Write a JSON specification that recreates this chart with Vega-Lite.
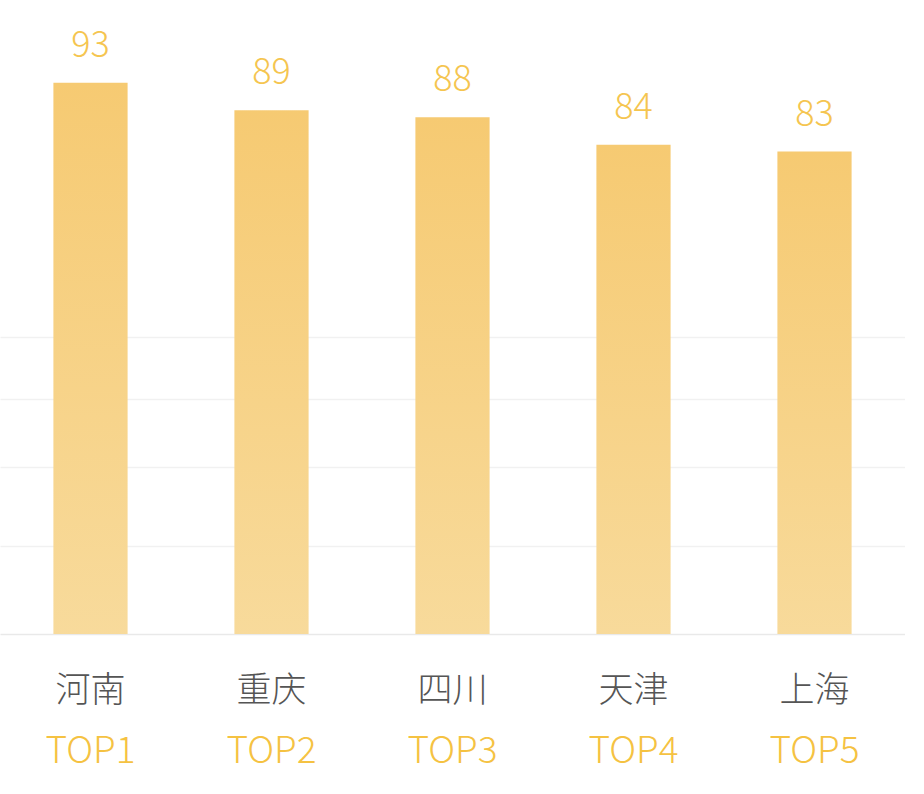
{
  "$schema": "https://vega.github.io/schema/vega-lite/v6.json",
  "width": 905,
  "height": 634,
  "padding": 0,
  "background": "#ffffff",
  "config": {
    "view": {"stroke": null},
    "font": "Noto Sans CJK SC"
  },
  "data": {
    "values": [
      {"city": "河南", "rank": "TOP1", "value": 93},
      {"city": "重庆", "rank": "TOP2", "value": 89},
      {"city": "四川", "rank": "TOP3", "value": 88},
      {"city": "天津", "rank": "TOP4", "value": 84},
      {"city": "上海", "rank": "TOP5", "value": 83}
    ]
  },
  "encoding": {
    "x": {
      "field": "city",
      "type": "nominal",
      "sort": null,
      "scale": {"paddingInner": 0.59, "paddingOuter": 0.295}
    },
    "y": {
      "field": "value",
      "type": "quantitative",
      "scale": {"domain": [13, 105], "zero": false, "nice": false}
    }
  },
  "resolve": {"axis": {"x": "independent"}},
  "layer": [
    {
      "mark": {
        "type": "bar",
        "clip": true,
        "color": {
          "gradient": "linear",
          "x1": 0, "y1": 0, "x2": 0, "y2": 1,
          "stops": [
            {"offset": 0, "color": "#F6CA72"},
            {"offset": 1, "color": "#F8DDA2"}
          ]
        }
      },
      "encoding": {
        "x": {
          "field": "city",
          "type": "nominal",
          "sort": null,
          "axis": {
            "title": null,
            "orient": "bottom",
            "labelAngle": 0,
            "labelFontSize": 35,
            "labelFontWeight": 300,
            "labelColor": "#555555",
            "labelPadding": 39,
            "ticks": false,
            "domain": true,
            "domainColor": "#E9E9E9",
            "domainWidth": 1.5,
            "labelFont": "Noto Sans CJK SC"
          }
        },
        "y": {
          "field": "value",
          "type": "quantitative",
          "axis": {
            "title": null,
            "labels": false,
            "ticks": false,
            "domain": false,
            "grid": true,
            "gridColor": "#F1F1F1",
            "gridWidth": 1.5,
            "values": [25.8, 37.2, 47.1, 56.1]
          }
        }
      }
    },
    {
      "mark": {
        "type": "text",
        "baseline": "alphabetic",
        "dy": -26,
        "fontSize": 36,
        "fontWeight": 300,
        "color": "#F5C550",
        "font": "Noto Sans CJK SC"
      },
      "encoding": {
        "x": {
          "field": "city",
          "type": "nominal",
          "sort": null,
          "axis": {
            "title": null,
            "orient": "bottom",
            "offset": 91,
            "labelAngle": 0,
            "labelFontSize": 37,
            "labelFontWeight": 300,
            "labelColor": "#F5C242",
            "labelPadding": 8,
            "ticks": false,
            "domain": false,
            "labelFont": "Noto Sans CJK SC",
            "labelExpr": "datum.label == '河南' ? 'TOP1' : datum.label == '重庆' ? 'TOP2' : datum.label == '四川' ? 'TOP3' : datum.label == '天津' ? 'TOP4' : 'TOP5'"
          }
        },
        "text": {"field": "value", "type": "quantitative"}
      }
    }
  ]
}
